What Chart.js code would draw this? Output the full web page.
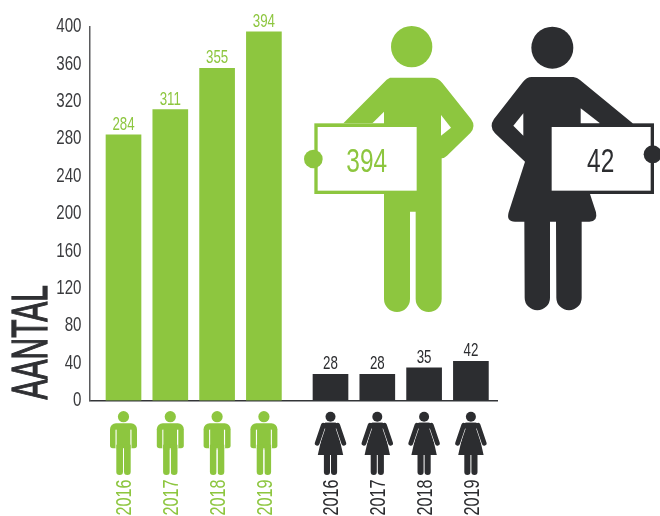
<!DOCTYPE html>
<html>
<head>
<meta charset="utf-8">
<style>html,body{margin:0;padding:0;background:#fff}canvas{display:block}</style>
<script src="https://cdn.jsdelivr.net/npm/chart.js@4"></script>
</head>
<body>
<canvas id="c" width="660" height="516"></canvas>
<script>
const years = ['2016','2017','2018','2019'];
const menValues = [284,311,355,394];
const womenValues = [28,28,35,42];
const yTitle = 'AANTAL';
const GREEN = '#8DC63F', DARK = '#2C2D30', FONT = '"Liberation Sans",sans-serif';

const labels = [...years, ...years];
const blanks = years.map(() => null);

// The reference uses a condensed typeface: narrow every text run along its own direction
const canvas = document.getElementById('c');
const ctx0 = canvas.getContext('2d');
const nativeFillText = ctx0.fillText.bind(ctx0);
let condense = 0.72;
ctx0.fillText = function (text, x, y, maxWidth) {
  ctx0.save();
  ctx0.translate(x, y);
  ctx0.scale(condense, 1);
  nativeFillText(text, 0, 0);
  ctx0.restore();
};

// Category axis with a wider space between the two groups of four bars
class GroupedCategoryScale extends Chart.CategoryScale {
  static id = 'groupedCategory';
  static defaults = Chart.CategoryScale.defaults;
  getPixelForValue(value) {
    const i = typeof value === 'number' ? value : this.parse(value);
    if (i === null) return NaN;
    const o = this.options;
    return this.left + o.lead + i * o.step + (i >= o.groupSize ? o.gap : 0);
  }
}
Chart.register(GroupedCategoryScale);

function pill(ctx, x, y, w, h, r) { ctx.beginPath(); ctx.roundRect(x, y, w, h, r); ctx.fill(); }

function smallMan(ctx, cx, cy) {
  ctx.save(); ctx.translate(cx, cy); ctx.fillStyle = GREEN;
  ctx.beginPath(); ctx.arc(0, 0, 5.6, 0, 7); ctx.fill();
  pill(ctx, -13.5, 6.6, 27, 25, [6, 6, 2.8, 2.8]);
  ctx.fillStyle = '#fff';
  ctx.fillRect(-8, 13, 1.3, 19); ctx.fillRect(6.7, 13, 1.3, 19);
  ctx.fillStyle = GREEN;
  ctx.fillRect(-6.7, 13, 13.4, 20);
  pill(ctx, -7.2, 28, 6.7, 30.3, [0, 0, 3.3, 3.3]);
  pill(ctx, 0.5, 28, 6.7, 30.3, [0, 0, 3.3, 3.3]);
  ctx.fillStyle = '#fff'; ctx.fillRect(-0.5, 31.5, 1, 27);
  ctx.restore();
}

function smallWoman(ctx, cx, cy) {
  ctx.save(); ctx.translate(cx, cy); ctx.fillStyle = DARK; ctx.lineCap = 'round';
  ctx.beginPath(); ctx.arc(0, 0, 5, 0, 7); ctx.fill();
  pill(ctx, -6.6, 28, 6.1, 30.3, [0, 0, 3, 3]);
  pill(ctx, 0.5, 28, 6.1, 30.3, [0, 0, 3, 3]);
  ctx.beginPath();
  ctx.moveTo(-5.5, 6); ctx.lineTo(5.5, 6); ctx.lineTo(12.7, 38.3); ctx.lineTo(-12.7, 38.3); ctx.closePath(); ctx.fill();
  [-1, 1].forEach(s => {
    ctx.strokeStyle = '#fff'; ctx.lineWidth = 6.6;
    ctx.beginPath(); ctx.moveTo(s * 8.4, 11); ctx.lineTo(s * 13.5, 26); ctx.stroke();
    ctx.strokeStyle = DARK; ctx.lineWidth = 4.8;
    ctx.beginPath(); ctx.moveTo(s * 7.2, 8.6); ctx.lineTo(s * 13.3, 26.5); ctx.stroke();
  });
  ctx.beginPath(); ctx.roundRect(-7.5, 6, 15, 6, 3); ctx.fill();
  ctx.restore();
}

function bigMan(ctx) {
  ctx.save(); ctx.translate(295, 15); ctx.scale(1/3, 1/3); ctx.fillStyle = GREEN;
  ctx.beginPath(); ctx.arc(350, 95, 62, 0, 7); ctx.fill();
  ctx.beginPath();
  ctx.moveTo(285, 188); ctx.lineTo(410, 188); ctx.quadraticCurveTo(430, 188, 442, 204);
  ctx.lineTo(528, 312); ctx.quadraticCurveTo(544, 334, 526, 354);
  ctx.lineTo(456, 422); ctx.quadraticCurveTo(447, 430, 440, 430);
  ctx.lineTo(440, 852); ctx.arc(401, 852, 39, 0, Math.PI);
  ctx.lineTo(362, 590); ctx.lineTo(345, 590); ctx.lineTo(345, 852);
  ctx.arc(306, 852, 39, 0, Math.PI);
  ctx.lineTo(267, 537); ctx.lineTo(267, 325); ctx.lineTo(145, 325);
  ctx.lineTo(275, 194); ctx.closePath(); ctx.fill();
  ctx.fillStyle = '#fff';
  ctx.beginPath(); ctx.moveTo(267, 290); ctx.lineTo(232, 325); ctx.lineTo(267, 325); ctx.closePath(); ctx.fill();
  ctx.beginPath(); ctx.moveTo(438, 300); ctx.lineTo(468, 338); ctx.lineTo(438, 362); ctx.closePath(); ctx.fill();
  ctx.fillStyle = GREEN; ctx.fillRect(58, 325, 307, 212);
  ctx.fillStyle = '#fff'; ctx.fillRect(68, 336, 297, 191);
  ctx.fillStyle = GREEN;
  ctx.beginPath(); ctx.arc(55, 432, 28, 0, 7); ctx.fill();
  ctx.restore();
}

function bigWoman(ctx) {
  ctx.save(); ctx.translate(480, 15); ctx.scale(1/3, 1/3); ctx.fillStyle = DARK;
  ctx.beginPath(); ctx.arc(217, 98, 63, 0, 7); ctx.fill();
  ctx.beginPath();
  ctx.moveTo(155, 186); ctx.lineTo(280, 186); ctx.quadraticCurveTo(292, 188, 300, 195);
  ctx.lineTo(458, 325); ctx.lineTo(458, 537); ctx.lineTo(330, 537);
  ctx.lineTo(348, 592); ctx.quadraticCurveTo(354, 620, 328, 620);
  ctx.lineTo(305, 620); ctx.lineTo(305, 848); ctx.arc(267, 848, 38, 0, Math.PI);
  ctx.lineTo(228, 620); ctx.lineTo(210, 620); ctx.lineTo(210, 848);
  ctx.arc(172, 848, 38, 0, Math.PI);
  ctx.lineTo(133, 620); ctx.lineTo(105, 620); ctx.quadraticCurveTo(78, 620, 86, 592);
  ctx.lineTo(135, 440); ctx.lineTo(45, 355); ctx.quadraticCurveTo(26, 335, 42, 312);
  ctx.lineTo(128, 202); ctx.quadraticCurveTo(140, 186, 155, 186);
  ctx.closePath(); ctx.fill();
  ctx.fillStyle = '#fff';
  ctx.beginPath(); ctx.moveTo(130, 295); ctx.lineTo(100, 332); ctx.lineTo(130, 362); ctx.closePath(); ctx.fill();
  ctx.beginPath(); ctx.moveTo(302, 280); ctx.lineTo(360, 325); ctx.lineTo(302, 325); ctx.closePath(); ctx.fill();
  ctx.fillStyle = DARK; ctx.fillRect(358, 325, 164, 212);
  ctx.fillStyle = '#fff'; ctx.fillRect(215, 336, 297, 191);
  ctx.fillStyle = DARK;
  ctx.beginPath(); ctx.arc(518, 418, 27, 0, 7); ctx.fill();
  ctx.restore();
}

const decorations = {
  id: 'decorations',
  afterDraw(chart) {
    const { ctx } = chart, x = chart.scales.x;
    ctx.save();
    // value labels above the bars
    chart.data.datasets.forEach((ds, d) => {
      const meta = chart.getDatasetMeta(d);
      ctx.fillStyle = ds.backgroundColor;
      ctx.font = '18.5px ' + FONT; ctx.textAlign = 'center'; ctx.textBaseline = 'alphabetic';
      ds.data.forEach((v, i) => {
        if (v === null) return;
        const el = meta.data[i];
        ctx.fillText(String(v), el.x, el.y - 5);
      });
    });
    // pictograms under the axis
    labels.forEach((_, i) => {
      const px = x.getPixelForValue(i);
      if (i < years.length) smallMan(ctx, px, 416.7); else smallWoman(ctx, px, 416.7);
    });
    // large figures with the latest values
    bigMan(ctx); bigWoman(ctx);
    ctx.textAlign = 'center'; ctx.textBaseline = 'alphabetic'; ctx.font = '34px ' + FONT;
    ctx.fillStyle = GREEN; ctx.fillText(String(menValues[menValues.length - 1]), 366.7, 172);
    ctx.fillStyle = DARK; ctx.fillText(String(womenValues[womenValues.length - 1]), 600.7, 172);
    // axis name, heavier than the condensed regular face
    ctx.translate(47, 399.5); ctx.rotate(-Math.PI / 2);
    ctx.font = '50px ' + FONT; ctx.textAlign = 'left'; ctx.fillStyle = '#2F3033';
    condense = 0.6;
    ctx.save(); ctx.scale(condense, 1);
    ctx.strokeStyle = '#2F3033'; ctx.lineWidth = 1.3; ctx.lineJoin = 'miter';
    ctx.strokeText(yTitle, 0, 0);
    ctx.restore();
    ctx.fillText(yTitle, 0, 0);
    condense = 0.72;
    ctx.restore();
  }
};

new Chart(canvas, {
  type: 'bar',
  data: {
    labels,
    datasets: [
      { label: 'Mannen', data: [...menValues, ...blanks], backgroundColor: GREEN, barThickness: 35, grouped: false },
      { label: 'Vrouwen', data: [...blanks, ...womenValues], backgroundColor: DARK, barThickness: 35, grouped: false }
    ]
  },
  options: {
    responsive: false, animation: false,
    layout: { padding: { top: 26.3, right: 163, left: 0, bottom: 0 } },
    plugins: { legend: { display: false }, tooltip: { enabled: false }, title: { display: false } },
    scales: {
      x: {
        type: 'groupedCategory', lead: 34, step: 46.8, gap: 19.8, groupSize: years.length,
        grid: { display: false, drawTicks: false },
        border: { display: true, color: '#333538', width: 1.5 },
        ticks: {
          autoSkip: false, minRotation: 90, maxRotation: 90, padding: 79, labelOffset: 1.5,
          font: { family: FONT, size: 22.5 },
          color: c => c.index < years.length ? GREEN : DARK
        },
        afterFit(s) { s.height = 115.5; }
      },
      y: {
        min: 0, max: 400,
        grid: { display: false, drawTicks: false },
        border: { display: true, color: '#5A5B5D', width: 1.5 },
        ticks: { stepSize: 40, padding: 8, color: '#3A3B3E', font: { family: FONT, size: 21 } },
        afterFit(s) { s.width = 89.5; }
      }
    }
  },
  plugins: [decorations]
});
</script>
</body>
</html>
